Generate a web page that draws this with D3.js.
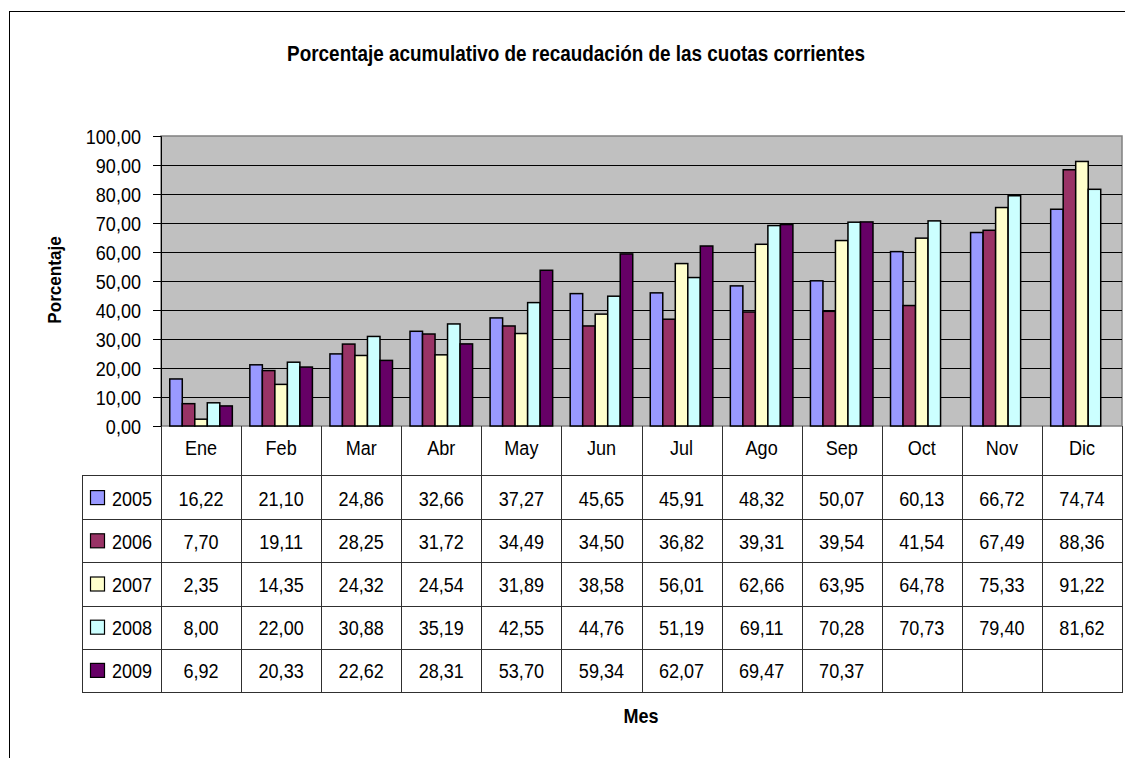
<!DOCTYPE html>
<html lang='es'>
<head>
<meta charset='UTF-8'>
<title>Porcentaje acumulativo</title>
<script src='https://d3js.org/d3.v7.min.js'></script>
<style>
  body { margin: 0; background: #fff; }
  svg { display: block; }
  text { font-family: 'Liberation Sans', Arial, sans-serif; fill: #000; }
</style>
</head>
<body>
<div id='chart'></div>
<script>
const months = ['Ene', 'Feb', 'Mar', 'Abr', 'May', 'Jun', 'Jul', 'Ago', 'Sep', 'Oct', 'Nov', 'Dic'];
const years = ['2005', '2006', '2007', '2008', '2009'];
const v2005 = [16.22, 21.10, 24.86, 32.66, 37.27, 45.65, 45.91, 48.32, 50.07, 60.13, 66.72, 74.74];
const v2006 = [7.70, 19.11, 28.25, 31.72, 34.49, 34.50, 36.82, 39.31, 39.54, 41.54, 67.49, 88.36];
const v2007 = [2.35, 14.35, 24.32, 24.54, 31.89, 38.58, 56.01, 62.66, 63.95, 64.78, 75.33, 91.22];
const v2008 = [8.00, 22.00, 30.88, 35.19, 42.55, 44.76, 51.19, 69.11, 70.28, 70.73, 79.40, 81.62];
const v2009 = [6.92, 20.33, 22.62, 28.31, 53.70, 59.34, 62.07, 69.47, 70.37, null, null, null];
const yTicks = [0, 10, 20, 30, 40, 50, 60, 70, 80, 90, 100];
const colors = ['#9999FF', '#993366', '#FFFFCC', '#CCFFFF', '#660066'];

const series = [v2005, v2006, v2007, v2008, v2009].map((vals, i) => ({ year: years[i], vals, color: colors[i] }));

const W = 1125, H = 758;
const plot = { left: 161, right: 1122, top: 136, bottom: 426 };
const tbl = { left: 82, headBottom: 476, bottom: 692 };
const K = 0.86; // horizontal squeeze, the original uses a narrow face

const loc = d3.formatLocale({ decimal: ',', thousands: '.', grouping: [3], currency: ['', ''] });
const fmt = loc.format('.2f');

// place a text at (px, py) and squeeze it horizontally
const narrow = (sel, px, py, k = K) => sel.attr('x', 0).attr('y', 0)
  .attr('transform', (d, i) => `translate(${px(d, i)},${py(d, i)}) scale(${k},1)`);

const svg = d3.select('#chart').append('svg').attr('width', W).attr('height', H);

// outer chart border (right and bottom run off the page)
svg.append('rect').attr('x', 9.5).attr('y', 11.5).attr('width', W + 20).attr('height', H + 20)
  .attr('fill', '#fff').attr('stroke', '#000').attr('stroke-width', 1);

const x = d3.scaleBand().domain(months).range([plot.left, plot.right]);
const bw = x.bandwidth();
const barW = bw / 6.4;
const xs = d3.scaleBand().domain(years).range([barW * 0.7, bw - barW * 0.7]);
const y = d3.scaleLinear().domain([0, 100]).range([plot.bottom, plot.top]);

// plot background
svg.append('rect').attr('x', plot.left).attr('y', plot.top)
  .attr('width', plot.right - plot.left).attr('height', plot.bottom - plot.top)
  .attr('fill', '#C0C0C0').attr('stroke', '#808080').attr('stroke-width', 1.5);

// gridlines
svg.append('g').selectAll('line').data(yTicks.slice(1, -1)).join('line')
  .attr('x1', plot.left).attr('x2', plot.right)
  .attr('y1', d => Math.round(y(d)) + 0.5).attr('y2', d => Math.round(y(d)) + 0.5)
  .attr('stroke', '#000').attr('stroke-width', 1);

// bars
const groups = svg.append('g').selectAll('g').data(series).join('g');
groups.selectAll('rect')
  .data(s => s.vals.map((v, i) => ({ v, m: months[i], year: s.year, color: s.color })).filter(d => d.v != null))
  .join('rect')
  .attr('x', d => x(d.m) + xs(d.year))
  .attr('y', d => y(d.v))
  .attr('width', xs.bandwidth())
  .attr('height', d => y(0) - y(d.v))
  .attr('fill', d => d.color)
  .attr('stroke', '#000').attr('stroke-width', 1.5);

// y axis
const yAxis = svg.append('g').attr('transform', `translate(${plot.left},0)`)
  .call(d3.axisLeft(y).tickValues(yTicks).tickSize(8).tickPadding(11).tickFormat(fmt));
yAxis.select('.domain').attr('stroke', '#000');
yAxis.selectAll('.tick line').attr('stroke', '#000');
yAxis.selectAll('.tick text').attr('font-size', 21).attr('font-family', null).attr('fill', '#000')
  .attr('transform', `translate(-20,0) scale(${K},1)`).attr('x', 0).attr('dy', '0.35em');

// data table
const rowH = (tbl.bottom - tbl.headBottom) / years.length;
const tg = svg.append('g');
const lineCol = '#303030';

// header month labels
narrow(tg.selectAll('.mlab').data(months).join('text'), d => x(d) + bw / 2, () => 447.5)
  .attr('text-anchor', 'middle').attr('dominant-baseline', 'central')
  .attr('font-size', 21).text(d => d);

// vertical lines
tg.selectAll('.vl').data(months.concat(['end'])).join('line')
  .attr('x1', (d, i) => Math.round(plot.left + i * bw) + 0.5)
  .attr('x2', (d, i) => Math.round(plot.left + i * bw) + 0.5)
  .attr('y1', plot.bottom).attr('y2', tbl.bottom)
  .attr('stroke', lineCol);
tg.append('line').attr('x1', tbl.left + 0.5).attr('x2', tbl.left + 0.5)
  .attr('y1', tbl.headBottom - 1).attr('y2', tbl.bottom).attr('stroke', lineCol);

// horizontal lines
const hLines = d3.range(years.length + 1).map(i => tbl.headBottom + i * rowH);
hLines[0] = tbl.headBottom - 1;
tg.selectAll('.hl').data(hLines).join('line')
  .attr('x1', tbl.left).attr('x2', plot.right + 1)
  .attr('y1', d => Math.round(d) + 0.5).attr('y2', d => Math.round(d) + 0.5)
  .attr('stroke', lineCol);

// rows
series.forEach((s, r) => {
  const cy = tbl.headBottom + r * rowH + rowH / 2 + 0.5;
  tg.append('rect').attr('x', 90.5).attr('y', cy - 7.5).attr('width', 14).attr('height', 14)
    .attr('fill', s.color).attr('stroke', '#000').attr('stroke-width', 1.2);
  narrow(tg.append('text'), () => 112, () => cy)
    .attr('dominant-baseline', 'central').attr('font-size', 21).text(s.year);
  narrow(tg.selectAll(null).data(s.vals.map((v, i) => ({ v, m: months[i] })).filter(d => d.v != null)).join('text'),
    d => x(d.m) + bw / 2, () => cy)
    .attr('text-anchor', 'middle').attr('dominant-baseline', 'central')
    .attr('font-size', 21).text(d => fmt(d.v));
});

// title and axis titles
narrow(svg.append('text'), () => 576, () => 61)
  .attr('text-anchor', 'middle').attr('font-size', 22).attr('font-weight', 'bold')
  .text('Porcentaje acumulativo de recaudación de las cuotas corrientes');
svg.append('text').attr('transform', `translate(61,280) rotate(-90) scale(0.9,1)`).attr('text-anchor', 'middle')
  .attr('font-size', 19).attr('font-weight', 'bold').text('Porcentaje');
narrow(svg.append('text'), () => 641, () => 723, 0.9)
  .attr('text-anchor', 'middle').attr('font-size', 20).attr('font-weight', 'bold').text('Mes');
</script>
</body>
</html>
